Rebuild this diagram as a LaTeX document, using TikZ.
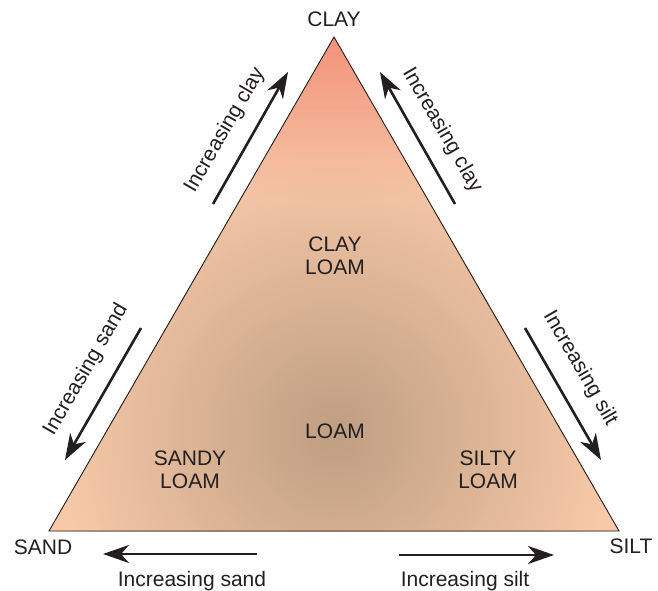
\documentclass[tikz,border=0pt]{standalone}
\usepackage{fontspec}
\setmainfont{Liberation Sans}
\usetikzlibrary{arrows.meta,fadings}
\definecolor{txt}{HTML}{231F20}
\definecolor{peach}{HTML}{F7C9A8}
\definecolor{core}{HTML}{BF9E82}
\definecolor{salmon}{HTML}{F2927A}
\tikzfading[name=clayfade, top color=transparent!0, middle color=transparent!55, bottom color=transparent!100]
\tikzset{
  lbl/.style={text=txt, font=\fontsize{21}{23}\selectfont, inner sep=0pt, align=center},
  arr/.style={line width=2.6pt, draw=txt, -{Stealth[length=26pt,width=18pt,inset=8pt]}}
}
\begin{document}
\begin{tikzpicture}[x=1pt,y=-1pt]
\useasboundingbox (0,0) rectangle (658,591);
\fill[white] (0,0) rectangle (658,591);
\coordinate (T) at (334,37);
\coordinate (L) at (49,531);
\coordinate (R) at (619,531);
\begin{scope}
  \clip (T) -- (L) -- (R) -- cycle;
  \fill[peach] (0,0) rectangle (658,591);
  \foreach \r in {300,297,...,0} {
    \pgfmathtruncatemacro\p{min(100,\r/2.8)}
    \fill[peach!\p!core] (335,432) circle (\r);
  }
  \fill[salmon, path fading=clayfade] (0,37) rectangle (658,200);
\end{scope}
\draw[line width=0.9pt, txt, line join=miter] (T) -- (L) -- (R) -- cycle;

\node[lbl, anchor=base] (clay) at (334,27) {CLAY};
\node[lbl, anchor=base] (sand) at (43,554) {SAND};
\node[lbl, anchor=base] (silt) at (631,553) {SILT};

\node[lbl] (clayloam) at (335,256) {CLAY\\LOAM};
\node[lbl] (loam) at (335,431.5) {LOAM};
\node[lbl] (sandyloam) at (190,470) {SANDY\\LOAM};
\node[lbl] (siltyloam) at (488,470) {SILTY\\LOAM};

\coordinate (a1s) at (213,204); \coordinate (a1e) at (288,72);
\coordinate (a2s) at (455,204); \coordinate (a2e) at (380,72);
\coordinate (a3s) at (141,328); \coordinate (a3e) at (65,460);
\coordinate (a4s) at (525,328); \coordinate (a4e) at (601,460);
\coordinate (a5s) at (257,554); \coordinate (a5e) at (103,554);
\coordinate (a6s) at (399,555); \coordinate (a6e) at (554,555);
\draw[arr] (a1s) -- (a1e);
\draw[arr] (a2s) -- (a2e);
\draw[arr] (a3s) -- (a3e);
\draw[arr] (a4s) -- (a4e);
\draw[arr] (a5s) -- (a5e);
\draw[arr] (a6s) -- (a6e);

\node[lbl, rotate=60] (t1) at (225,130) {Increasing clay};
\node[lbl, rotate=-60] (t2) at (442,130) {Increasing clay};
\node[lbl, rotate=60] (t3) at (86,370) {Increasing sand};
\node[lbl, rotate=-60] (t4) at (580,368) {Increasing silt};
\node[lbl, anchor=base] (t5) at (192,586) {Increasing sand};
\node[lbl, anchor=base] (t6) at (465,586) {Increasing silt};
\end{tikzpicture}
\end{document}
